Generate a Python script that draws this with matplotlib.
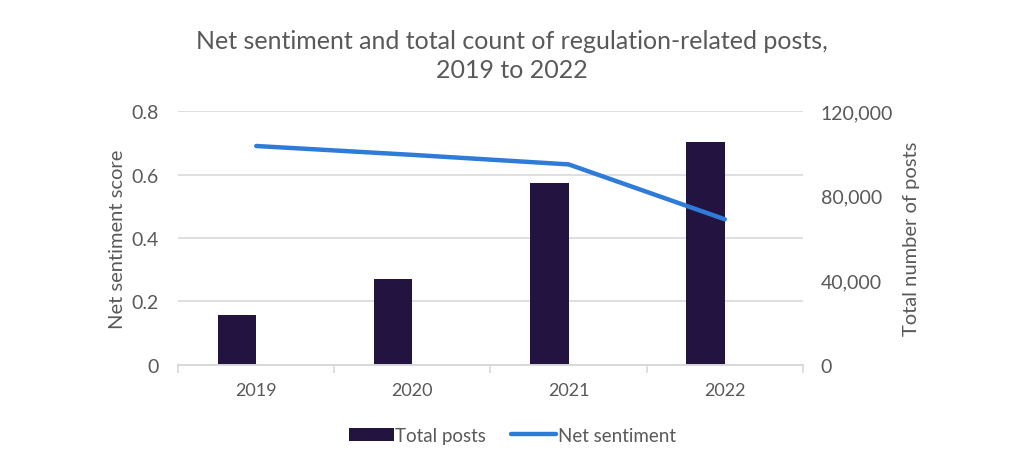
import numpy as np
import matplotlib.pyplot as plt
from matplotlib.ticker import FuncFormatter

plt.rcParams['font.family'] = ['Lato', 'DejaVu Sans']

years = ['2019', '2020', '2021', '2022']
total_posts = [23800, 40800, 85800, 105500]
net_sentiment = [0.690, 0.662, 0.632, 0.459]

text_col = '#595959'
bar_col = '#231340'
line_col = '#2e7bd9'
grid_col = '#d9d9d9'

fig = plt.figure(figsize=(10.24, 4.77), dpi=100)
ax = fig.add_axes([0.174, 0.233, 0.610, 0.532])
ax2 = ax.twinx()
ax3 = ax.twinx()

x = np.arange(len(years))
w = 0.245
ax2.bar(x - w / 2, total_posts, width=w, color=bar_col, label='Total posts')
ax3.plot(x, net_sentiment, color=line_col, lw=3.2, solid_capstyle='round', label='Net sentiment')

# grid (left axis) at the bottom, bars in the middle, line on top
ax.set_zorder(1)
ax2.set_zorder(2)
ax3.set_zorder(3)
ax2.patch.set_visible(False)
ax3.patch.set_visible(False)

ax.set_xlim(-0.5, len(years) - 0.5)
ax.set_ylim(0, 0.8)
ax3.set_ylim(0, 0.8)
ax3.yaxis.set_visible(False)
ax.set_yticks([0, 0.2, 0.4, 0.6, 0.8])
ax.set_yticklabels(['0', '0.2', '0.4', '0.6', '0.8'])
ax.yaxis.grid(True, color=grid_col, lw=1.2)
ax.set_axisbelow(True)

ax2.set_ylim(0, 120000)
ax2.set_yticks([0, 40000, 80000, 120000])
ax2.yaxis.set_major_formatter(FuncFormatter(lambda v, p: f'{int(v):,}'))

ax.set_xticks(x)
ax.set_xticklabels(years)
ax.set_xticks(np.arange(-0.5, len(years)), minor=True)
ax.tick_params(axis='x', which='major', length=0, pad=12, labelsize=13, colors=text_col)
ax.tick_params(axis='x', which='minor', length=6, color=grid_col, width=1.2)
ax.tick_params(axis='y', length=0, pad=14, labelsize=14, colors=text_col)
ax2.tick_params(axis='y', length=0, pad=13, labelsize=14, colors=text_col)

for a in (ax, ax2, ax3):
    for s in ('top', 'left', 'right'):
        a.spines[s].set_visible(False)
    a.spines['bottom'].set_color(grid_col)
    a.spines['bottom'].set_linewidth(1.2)

ax.set_ylabel('Net sentiment score', fontsize=14.5, color=text_col, labelpad=4)
ax2.set_ylabel('Total number of posts', fontsize=14.5, color=text_col, labelpad=7)

fig.text(0.5, 0.883, 'Net sentiment and total count of regulation-related posts,\n2019 to 2022',
         ha='center', va='center', fontsize=18, color=text_col, linespacing=1.3)

h1, l1 = ax2.get_legend_handles_labels()
h2, l2 = ax3.get_legend_handles_labels()
fig.legend(h1 + h2, l1 + l2, loc='center', bbox_to_anchor=(0.5, 0.085), ncol=2, frameon=False,
           fontsize=13.5, labelcolor=text_col, handlelength=2.4, handletextpad=0.1, columnspacing=1.3)

plt.savefig('out.png', dpi=100)
